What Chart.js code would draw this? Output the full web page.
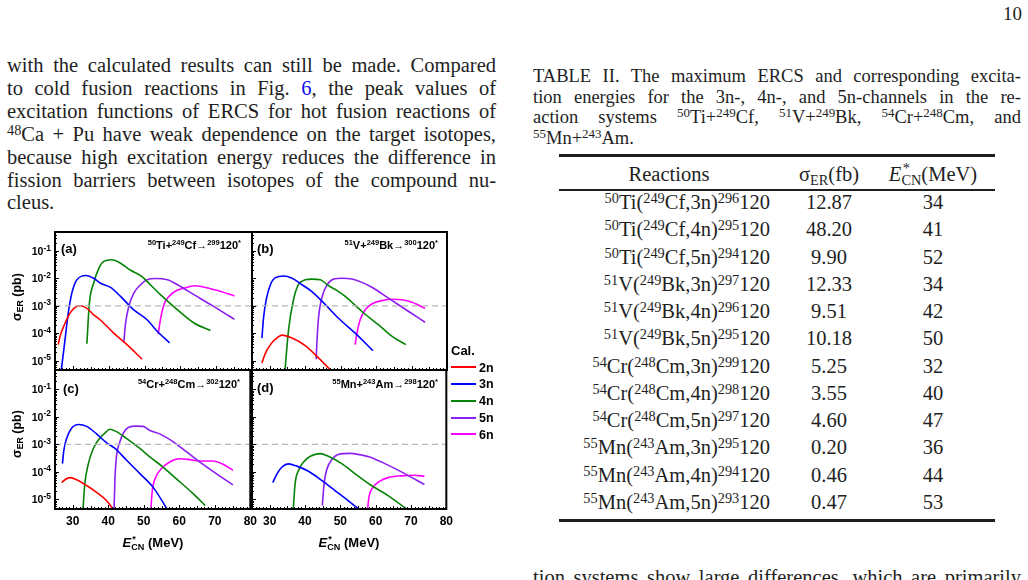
<!DOCTYPE html>
<html>
<head>
<meta charset="utf-8">
<title>ERCS excitation functions</title>
<script src="https://cdn.jsdelivr.net/npm/chart.js@4.4.1/dist/chart.umd.min.js"></script>
<style>
  html, body { margin: 0; padding: 0; }
  body { width: 1028px; height: 580px; overflow: hidden; position: relative; background: #fff; color: #1e1e1e;
         font-family: "Liberation Serif", "DejaVu Serif", serif; }
  .abs { position: absolute; }
  sup { font-size: 70%; line-height: 0; vertical-align: 0.45em; }
  sub { font-size: 70%; line-height: 0; vertical-align: -0.25em; }
  .body-text { left: 7px; top: 54px; width: 489px; font-size: 20.5px; line-height: 22.9px; }
  .caption { left: 533px; top: 66px; width: 488px; font-size: 18.5px; line-height: 20.7px; }
  .body-text div, .caption div { text-align: justify; text-align-last: justify; }
  .body-text div.last, .caption div.last { text-align: left; text-align-last: left; }
  .link { color: #1010ee; }
  .rule { position: absolute; left: 559px; width: 436px; background: #1e1e1e; }
  .cell { position: absolute; white-space: nowrap; font-size: 20.5px; line-height: 27px; height: 27px; }
  .c1 { left: 560px; width: 210px; text-align: right; }
  .c2 { left: 779px; width: 100px; text-align: center; }
  .c3 { left: 873px; width: 120px; text-align: center; }
  .hdr1 { left: 609px; width: 120px; text-align: center; }
  .stk { display: inline-block; position: relative; font-size: 70%; line-height: 1; vertical-align: -0.3em; }
  .stk .st { position: absolute; left: 0.1em; top: -0.85em; }
  canvas { position: absolute; }
  .fig { position: absolute; font-family: "Liberation Sans", Arial, sans-serif; font-weight: bold; color: #000; white-space: nowrap; }
  .plab { font-size: 13px; line-height: 15px; }
  .rlab { font-size: 11px; line-height: 12px; width: 130px; text-align: right; }
  .rlab sup { font-size: 7.5px; vertical-align: 4px; }
  .rlab .arr { font-weight: normal; }
  .ytitle { font-size: 12.5px; transform: translate(-50%, -50%) rotate(-90deg); }
  .xtitle { font-size: 13px; transform: translate(-50%, -50%); }
  .leg { font-size: 12.5px; line-height: 16px; }
  .legline { position: absolute; left: 451px; width: 25px; height: 2px; }
</style>
</head>
<body>

<div class="abs" style="left:1000px;top:3px;width:22px;font-size:19px;line-height:22px;text-align:right">10</div>

<div class="abs body-text">
  <div>with the calculated results can still be made. Compared</div>
  <div>to cold fusion reactions in Fig. <span class="link">6</span>, the peak values of</div>
  <div>excitation functions of ERCS for hot fusion reactions of</div>
  <div><sup>48</sup>Ca + Pu have weak dependence on the target isotopes,</div>
  <div>because high excitation energy reduces the difference in</div>
  <div>fission barriers between isotopes of the compound nu-</div>
  <div class="last">cleus.</div>
</div>

<div class="abs caption">
  <div>TABLE II. The maximum ERCS and corresponding excita-</div>
  <div>tion energies for the 3n-, 4n-, and 5n-channels in the re-</div>
  <div>action systems <sup>50</sup>Ti+<sup>249</sup>Cf, <sup>51</sup>V+<sup>249</sup>Bk, <sup>54</sup>Cr+<sup>248</sup>Cm, and</div>
  <div class="last"><sup>55</sup>Mn+<sup>243</sup>Am.</div>
</div>

<div class="rule" style="top:154px;height:3px"></div>
<div class="rule" style="top:189px;height:2px"></div>
<div class="rule" style="top:519px;height:3px"></div>
<div class="cell hdr1" style="top:161px">Reactions</div>
<div class="cell c2" style="top:161px">σ<sub>ER</sub>(fb)</div>
<div class="cell c3" style="top:161px"><i>E</i><span class="stk"><span class="st">*</span>CN</span>(MeV)</div>
<div id="tbl"></div>

<div class="abs" style="left:533px;top:566px;width:488px;font-size:20.5px;line-height:22.9px;text-align:justify;text-align-last:justify">tion systems show large differences, which are primarily</div>

<canvas id="pa" width="262" height="148" style="left:0px;top:226px"></canvas>
<canvas id="pb" width="212" height="148" style="left:246px;top:226px"></canvas>
<canvas id="pc" width="262" height="170" style="left:0px;top:366px"></canvas>
<canvas id="pd" width="212" height="170" style="left:246px;top:366px"></canvas>

<div class="fig plab" style="left:61px;top:241px">(a)</div>
<div class="fig plab" style="left:257px;top:241px">(b)</div>
<div class="fig plab" style="left:63px;top:381px">(c)</div>
<div class="fig plab" style="left:257px;top:380px">(d)</div>

<div class="fig rlab" style="left:111px;top:239px"><sup>50</sup>Ti+<sup>249</sup>Cf<span class="arr">→</span><sup>299</sup>120<sup>*</sup></div>
<div class="fig rlab" style="left:308px;top:239px"><sup>51</sup>V+<sup>249</sup>Bk<span class="arr">→</span><sup>300</sup>120<sup>*</sup></div>
<div class="fig rlab" style="left:110px;top:378px"><sup>54</sup>Cr+<sup>248</sup>Cm<span class="arr">→</span><sup>302</sup>120<sup>*</sup></div>
<div class="fig rlab" style="left:308px;top:378px"><sup>55</sup>Mn+<sup>243</sup>Am<span class="arr">→</span><sup>298</sup>120<sup>*</sup></div>

<div class="fig ytitle" style="left:17px;top:297px">σ<sub>ER</sub> (pb)</div>
<div class="fig ytitle" style="left:17px;top:434px">σ<sub>ER</sub> (pb)</div>
<div class="fig xtitle" style="left:153px;top:543px"><i>E</i><span class="stk"><span class="st">*</span>CN</span> (MeV)</div>
<div class="fig xtitle" style="left:349px;top:543px"><i>E</i><span class="stk"><span class="st">*</span>CN</span> (MeV)</div>

<div class="fig" style="left:451px;top:343px;font-size:13px;line-height:15px">Cal.</div>
<div id="legend"></div>

<script>
// axis ranges and tick labels
const xRange = [25, 80];
const yRange = [4.5e-6, 0.5];
const xTicks = [30, 40, 50, 60, 70, 80];
const yTicks = [1e-5, 1e-4, 1e-3, 1e-2, 1e-1];
const refLevel = 1e-3;

const channels = ['2n', '3n', '4n', '5n', '6n'];
const channelColors = ['#ff0000', '#0000ff', '#078407', '#8b1ef0', '#ff00ff'];

// (a) 50Ti+249Cf
const a2nE = [25.9, 26.4, 27.8, 29.2, 30.6, 32.0, 33.9, 35.8, 37.6, 41.4, 45.1, 49.3];
const a2nS = [3.8e-5, 7.6e-5, 2.3e-4, 5.4e-4, 8.7e-4, 1.0e-3, 8.1e-4, 4.7e-4, 3.1e-4, 1.0e-4, 3.8e-5, 1.12e-5];
const a3nE = [26.6, 27.8, 28.7, 29.7, 31.1, 33.7, 35.8, 37.6, 40.4, 43.3, 47.0, 50.7, 53.6, 57.0];
const a3nS = [3e-6, 5.8e-5, 5.4e-4, 2.9e-3, 8.9e-3, 1.29e-2, 1.02e-2, 6.8e-3, 4.8e-3, 2.2e-3, 7.1e-4, 3.1e-4, 1.15e-4, 4.4e-5];
const a4nE = [33.9, 34.6, 35.8, 37.2, 38.6, 40.9, 43.3, 46.1, 49.3, 50.7, 54.5, 59.2, 63.9, 68.4];
const a4nS = [4.1e-5, 1.26e-3, 6.8e-3, 2.3e-2, 4.2e-2, 4.82e-2, 3.6e-2, 2.0e-2, 1.17e-2, 7.8e-3, 2.5e-3, 7.1e-4, 2.3e-4, 1.26e-4];
const a5nE = [44.2, 44.7, 45.6, 47.0, 48.9, 50.7, 53.0, 56.4, 59.2, 63.9, 68.5, 72.3, 75.1];
const a5nS = [4.4e-5, 2.3e-4, 9.5e-4, 2.9e-3, 5.9e-3, 8.9e-3, 1.0e-2, 8.9e-3, 5.9e-3, 2.5e-3, 1.1e-3, 5.4e-4, 3.2e-4];
const a6nE = [53.8, 54.5, 55.4, 56.8, 58.7, 61.0, 63.9, 66.7, 70.4, 75.1];
const a6nS = [9.3e-5, 3.5e-4, 1.1e-3, 2.2e-3, 3.5e-3, 4.4e-3, 5.4e-3, 4.8e-3, 3.6e-3, 2.3e-3];

// (b) 51V+249Bk
const b2nE = [27.8, 28.8, 30.2, 31.6, 33.5, 36.3, 40.0, 43.8, 47.5];
const b2nS = [8.1e-6, 1.86e-5, 3.8e-5, 6.0e-5, 8.5e-5, 6.6e-5, 3.5e-5, 1.23e-5, 4.0e-6];
const b3nE = [27.8, 28.3, 29.0, 30.2, 31.6, 33.9, 36.3, 39.1, 41.9, 45.7, 49.4, 54.1, 59.1];
const b3nS = [6.6e-5, 4.1e-4, 1.66e-3, 5.9e-3, 1.07e-2, 1.23e-2, 1.02e-2, 5.9e-3, 3.3e-3, 1.1e-3, 3.5e-4, 1.0e-4, 2.3e-5];
const b4nE = [34.2, 35.3, 36.7, 38.1, 40.0, 41.9, 44.3, 46.6, 49.0, 51.3, 56.0, 60.7, 64.5, 68.4];
const b4nS = [3e-6, 1.3e-4, 1.66e-3, 5.9e-3, 8.9e-3, 9.5e-3, 8.9e-3, 5.4e-3, 3.6e-3, 2.2e-3, 6.2e-4, 2.0e-4, 7.6e-5, 3.8e-5];
const b5nE = [43.1, 43.3, 43.8, 44.8, 46.2, 48.1, 50.4, 53.2, 56.0, 58.8, 63.5, 69.2, 73.8];
const b5nS = [1.12e-5, 4.4e-5, 4.1e-4, 2.2e-3, 5.9e-3, 9.5e-3, 1.02e-2, 9.5e-3, 7.2e-3, 4.8e-3, 1.9e-3, 6.2e-4, 2.5e-4];
const b6nE = [54.1, 54.6, 55.5, 56.9, 58.8, 61.6, 64.6, 67.2, 70.1, 73.8];
const b6nS = [3.8e-5, 1.0e-4, 3.1e-4, 7.1e-4, 1.17e-3, 1.55e-3, 1.74e-3, 1.66e-3, 1.35e-3, 8.1e-4];

// (c) 54Cr+248Cm
const c2nE = [26.9, 27.8, 29.2, 31.1, 33.9, 36.7, 39.5, 41.6];
const c2nS = [4.1e-5, 5.2e-5, 6.2e-5, 5.2e-5, 3.2e-5, 1.82e-5, 9.1e-6, 4.0e-6];
const c3nE = [27.1, 27.5, 28.3, 29.7, 31.7, 33.9, 36.7, 39.5, 41.9, 45.1, 48.9, 52.6, 56.8];
const c3nS = [2.0e-4, 6.2e-4, 1.66e-3, 3.9e-3, 5.25e-3, 4.5e-3, 2.4e-3, 1.15e-3, 7.1e-4, 2.7e-4, 8.7e-5, 2.8e-5, 4.0e-6];
const c4nE = [32.8, 33.4, 34.4, 35.8, 37.6, 39.5, 40.4, 42.3, 45.1, 48.9, 51.7, 55.4, 59.2, 63.9, 67.3];
const c4nS = [3e-6, 3.7e-5, 2.0e-4, 7.1e-4, 1.66e-3, 2.9e-3, 3.55e-3, 2.9e-3, 1.66e-3, 7.1e-4, 3.5e-4, 1.5e-4, 5.6e-5, 1.62e-5, 6.0e-6];
const c5nE = [41.6, 41.9, 42.3, 43.3, 44.2, 45.6, 47.9, 49.8, 51.7, 54.5, 58.2, 62.0, 65.7, 70.4, 75.1];
const c5nS = [3e-6, 6.5e-5, 3.5e-4, 1.26e-3, 2.5e-3, 4.1e-3, 4.6e-3, 4.5e-3, 3.2e-3, 2.4e-3, 1.26e-3, 5.4e-4, 2.3e-4, 8.7e-5, 3.4e-5];
const c6nE = [51.9, 52.4, 53.4, 55.0, 57.3, 60.1, 62.9, 65.7, 69.5, 72.3, 75.1];
const c6nS = [3e-6, 2.1e-5, 6.5e-5, 1.32e-4, 2.3e-4, 3.0e-4, 2.8e-4, 2.5e-4, 2.5e-4, 1.9e-4, 1.15e-4];

// (d) 55Mn+243Am (no 2n curve)
const d3nE = [30.9, 32.1, 33.5, 35.3, 37.7, 41.0, 44.7, 48.5, 52.2, 55.7];
const d3nS = [4.1e-5, 8.7e-5, 1.51e-4, 1.95e-4, 1.62e-4, 1.05e-4, 4.9e-5, 2.1e-5, 9.1e-6, 4.0e-6];
const d4nE = [36.6, 37.2, 38.2, 39.6, 41.5, 44.3, 46.6, 50.4, 54.1, 58.8, 63.5, 69.3];
const d4nS = [3e-6, 3.7e-5, 1.15e-4, 2.3e-4, 3.7e-4, 4.6e-4, 3.7e-4, 2.0e-4, 8.7e-5, 3.2e-5, 1.38e-5, 4.0e-6];
const d5nE = [44.9, 45.4, 46.1, 47.6, 49.4, 52.7, 56.0, 58.3, 62.6, 67.3, 73.8];
const d5nS = [6.0e-6, 3.7e-5, 1.15e-4, 2.8e-4, 4.3e-4, 4.7e-4, 4.1e-4, 3.5e-4, 2.0e-4, 1.0e-4, 3.5e-5];
const d6nE = [57.6, 58.1, 59.3, 61.2, 63.5, 67.3, 71.0, 73.8];
const d6nS = [3e-6, 1.2e-5, 2.8e-5, 4.6e-5, 6.2e-5, 7.2e-5, 7.6e-5, 6.9e-5];

// Table II
const tableReactions = [
  ['50', 'Ti', '249', 'Cf', '3n', '296'], ['50', 'Ti', '249', 'Cf', '4n', '295'], ['50', 'Ti', '249', 'Cf', '5n', '294'],
  ['51', 'V', '249', 'Bk', '3n', '297'], ['51', 'V', '249', 'Bk', '4n', '296'], ['51', 'V', '249', 'Bk', '5n', '295'],
  ['54', 'Cr', '248', 'Cm', '3n', '299'], ['54', 'Cr', '248', 'Cm', '4n', '298'], ['54', 'Cr', '248', 'Cm', '5n', '297'],
  ['55', 'Mn', '243', 'Am', '3n', '295'], ['55', 'Mn', '243', 'Am', '4n', '294'], ['55', 'Mn', '243', 'Am', '5n', '293']
];
const tableSigma = ['12.87', '48.20', '9.90', '12.33', '9.51', '10.18', '5.25', '3.55', '4.60', '0.20', '0.46', '0.47'];
const tableEnergy = ['34', '41', '52', '34', '42', '50', '32', '40', '47', '36', '44', '53'];

const tbl = document.getElementById('tbl');
tableReactions.forEach(function(r, i) {
  const top = 189 + i * 27.25;
  tbl.insertAdjacentHTML('beforeend',
    '<div class="cell c1" style="top:' + top + 'px"><sup>' + r[0] + '</sup>' + r[1] + '(<sup>' + r[2] + '</sup>' + r[3] + ',' + r[4] + ')<sup>' + r[5] + '</sup>120</div>' +
    '<div class="cell c2" style="top:' + top + 'px">' + tableSigma[i] + '</div>' +
    '<div class="cell c3" style="top:' + top + 'px">' + tableEnergy[i] + '</div>');
});

const legend = document.getElementById('legend');
channels.forEach(function(ch, i) {
  const cy = 367.3 + i * 16.75;
  legend.insertAdjacentHTML('beforeend',
    '<div class="legline" style="top:' + (cy - 1) + 'px;background:' + channelColors[i] + '"></div>' +
    '<div class="fig leg" style="left:479px;top:' + (cy - 7.8) + 'px">' + ch + '</div>');
});

const sansFamily = '"Liberation Sans", Arial, sans-serif';

// frame plus inward ticks, like the original plotting program
const framePlugin = {
  id: 'frame',
  afterDraw: function(chart) {
    const ctx = chart.ctx, a = chart.chartArea, x = chart.scales.x, y = chart.scales.y;
    ctx.save();
    ctx.strokeStyle = '#000';
    ctx.lineWidth = 1;
    ctx.beginPath();
    for (let v = xRange[0] + 1; v < xRange[1]; v++) {
      const px = Math.round(x.getPixelForValue(v)) + 0.5;
      const len = v % 10 === 0 ? 4 : (v % 5 === 0 ? 3 : 2);
      ctx.moveTo(px, a.bottom);
      ctx.lineTo(px, a.bottom - len);
    }
    for (let d = -6; d <= 0; d++) {
      for (let k = 1; k < 10; k++) {
        const v = Number(k + 'e' + d);
        if (v <= yRange[0] || v >= yRange[1]) continue;
        const py = Math.round(y.getPixelForValue(v)) + 0.5;
        ctx.moveTo(a.left, py);
        ctx.lineTo(a.left + (k === 1 ? 4 : 2), py);
      }
    }
    ctx.stroke();
    ctx.lineWidth = 2;
    ctx.strokeRect(a.left, a.top, a.right - a.left, a.bottom - a.top);

    // 10^n tick labels on the log axis, placed by the y scale
    if (chart.options.scales.y.display) {
      ctx.fillStyle = '#000';
      ctx.textAlign = 'left';
      ctx.textBaseline = 'alphabetic';
      yTicks.forEach(function(v) {
        const ex = String(Math.round(Math.log10(v)));
        const py = y.getPixelForValue(v);
        ctx.font = 'bold 8.5px ' + sansFamily;
        const ew = ctx.measureText(ex).width;
        ctx.font = 'bold 10.5px ' + sansFamily;
        const bw = ctx.measureText('10').width;
        const right = a.left - 4;
        ctx.fillText('10', right - ew - bw, py + 4);
        ctx.font = 'bold 8.5px ' + sansFamily;
        ctx.fillText(ex, right - ew, py - 0.5);
      });
    }
    ctx.restore();
  }
};

Chart.defaults.font.family = sansFamily;

const panels = [
  { id: 'pa', series: [[a2nE, a2nS], [a3nE, a3nS], [a4nE, a4nS], [a5nE, a5nS], [a6nE, a6nS]],
    pad: { left: 0, right: 10, top: 6, bottom: 4 }, showX: false, showY: true },
  { id: 'pb', series: [[b2nE, b2nS], [b3nE, b3nS], [b4nE, b4nS], [b5nE, b5nS], [b6nE, b6nS]],
    pad: { left: 6, right: 11, top: 6, bottom: 4 }, showX: false, showY: false },
  { id: 'pc', series: [[c2nE, c2nS], [c3nE, c3nS], [c4nE, c4nS], [c5nE, c5nS], [c6nE, c6nS]],
    pad: { left: 0, right: 10, top: 4, bottom: 0 }, showX: true, showY: true },
  { id: 'pd', series: [null, [d3nE, d3nS], [d4nE, d4nS], [d5nE, d5nS], [d6nE, d6nS]],
    pad: { left: 6, right: 11, top: 4, bottom: 0 }, showX: true, showY: false }
];

function makePanel(p) {
  const datasets = [{
    data: [{ x: xRange[0], y: refLevel }, { x: xRange[1], y: refLevel }],
    borderColor: '#b8b8b8', borderWidth: 1.2, borderDash: [6, 4], pointRadius: 0
  }];
  p.series.forEach(function(s, i) {
    if (!s) return;
    datasets.push({
      label: channels[i],
      data: s[0].map(function(e, j) { return { x: e, y: s[1][j] }; }),
      borderColor: channelColors[i],
      borderWidth: 1.6,
      pointRadius: 0,
      cubicInterpolationMode: 'monotone'
    });
  });

  new Chart(document.getElementById(p.id), {
    type: 'line',
    data: { datasets: datasets },
    plugins: [framePlugin],
    options: {
      responsive: false,
      animation: false,
      events: [],
      layout: { padding: p.pad },
      plugins: { legend: { display: false }, tooltip: { enabled: false } },
      scales: {
        x: {
          type: 'linear', min: xRange[0], max: xRange[1], display: p.showX,
          afterBuildTicks: function(scale) { scale.ticks = xTicks.map(function(v) { return { value: v }; }); },
          afterFit: function(scale) { scale.height = p.showX ? 27 : 0; },
          grid: { display: false, drawTicks: false },
          border: { display: false },
          ticks: { color: '#000', font: { family: sansFamily, weight: 'bold', size: 12 }, padding: 5, maxRotation: 0, autoSkip: false }
        },
        y: {
          type: 'logarithmic', min: yRange[0], max: yRange[1], display: p.showY,
          afterBuildTicks: function(scale) { scale.ticks = yTicks.map(function(v) { return { value: v }; }); },
          afterFit: function(scale) { scale.width = p.showY ? 55 : 0; },
          grid: { display: false, drawTicks: false },
          border: { display: false },
          ticks: { display: false }
        }
      }
    }
  });
}

panels.forEach(makePanel);
</script>
</body>
</html>
